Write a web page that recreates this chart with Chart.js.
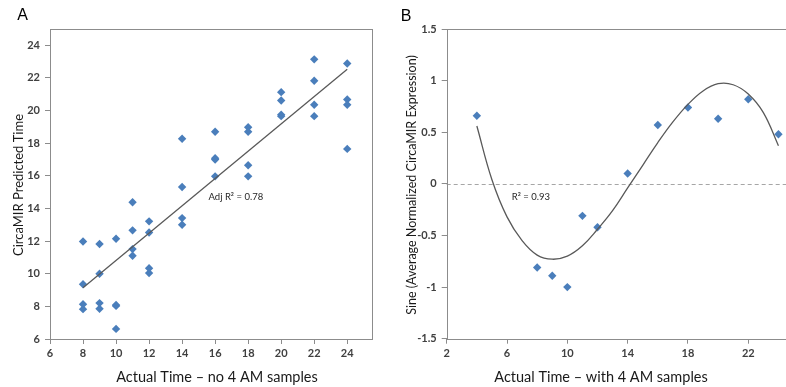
<!DOCTYPE html>
<html><head><meta charset="utf-8">
<script src="https://cdn.jsdelivr.net/npm/chart.js@4/dist/chart.umd.min.js"></script>
<style>
html,body{margin:0;padding:0;background:#fff;overflow:hidden;width:786px;height:387px;position:relative;}
#wa{position:absolute;left:0;top:0;width:400px;height:387px;}
#wb{position:absolute;left:400px;top:0;width:430px;height:387px;}
</style></head><body>
<div id="wa"><canvas id="ca" width="400" height="387"></canvas></div>
<div id="wb"><canvas id="cb" width="430" height="387"></canvas></div>
<script>
// ---------- Panel A data ----------
const aTimes = [8,8,8,8, 9,9,9,9, 10,10,10,10, 11,11,11,11, 12,12,12,12, 14,14,14,14, 16,16,16,16, 18,18,18,18, 20,20,20,20, 22,22,22,22, 24,24,24,24];
const aPredicted = [11.98,9.36,8.13,7.83, 11.82,10.0,8.2,7.85, 12.14,8.03,8.08,6.62, 14.38,12.66,11.51,11.1, 13.21,12.53,10.34,10.04, 18.27,15.32,13.41,13.0, 18.7,17.0,17.08,15.97, 18.98,18.7,16.65,15.97, 21.13,20.62,19.74,19.66, 23.14,21.83,20.36,19.66, 22.89,20.68,20.36,17.65];
const aFitX = [8, 24];
const aFitY = [9.14, 22.53];
const aXTicks = [6,8,10,12,14,16,18,20,22,24];
const aYTicks = [6,8,10,12,14,16,18,20,22,24];
const aLabel = "Adj R\u00B2 = 0.78";

// ---------- Panel B data ----------
const bTimes = [4,8,9,10,11,12,14,16,18,20,22,24];
const bSine = [0.66,-0.81,-0.89,-1.0,-0.31,-0.42,0.10,0.57,0.74,0.63,0.82,0.48];
const bFitX = [4,5,6,7,8,9,10,11,12,13,14,15,16,17,18,19,20,21,22,23,24];
const bFitY = [0.56,0.04,-0.32,-0.55,-0.69,-0.73,-0.70,-0.60,-0.44,-0.26,-0.04,0.18,0.40,0.60,0.77,0.90,0.97,0.96,0.87,0.69,0.37];
const bXTicks = [2,6,10,14,18,22];
const bYTicks = [-1.5,-1,-0.5,0,0.5,1,1.5];
const bLabel = "R\u00B2 = 0.93";

const FONT = "Lato, 'Open Sans', sans-serif";
Chart.defaults.font.family = FONT;
Chart.defaults.animation = false;
const AXIS = '#8c8c8c';
const TICKC = '#404040';
const BLUE = '#4A7EBB';
const LINEC = '#595959';

function pts(xs, ys){ return xs.map((x,i)=>({x:x, y:ys[i]})); }

function frame(ch){
  const a = ch.chartArea, c = ch.ctx;
  c.save(); c.strokeStyle = AXIS; c.lineWidth = 1;
  c.strokeRect(Math.round(a.left)+0.5, Math.round(a.top)+0.5, Math.round(a.right-a.left), Math.round(a.bottom-a.top));
  c.restore();
}
function txt(c, s, x, y, font, color, align, rot){
  c.save(); c.translate(x,y); if(rot) c.rotate(rot);
  c.font = font; c.fillStyle = color; c.textAlign = align||'center'; c.textBaseline = 'middle';
  c.fillText(s,0,0); c.restore();
}

function scaleOpts(min, max, ticks, fmt, pad){
  return {
    type:'linear', min:min, max:max,
    afterBuildTicks: s => { s.ticks = ticks.map(v=>({value:v})); },
    grid:{display:true, drawOnChartArea:false, drawTicks:true, tickLength:5, tickColor:AXIS, color:AXIS},
    border:{display:false},
    ticks:{color:TICKC, font:{size:11, weight:'bold'}, padding:pad, callback: fmt}
  };
}

// ---------- Chart A ----------
new Chart(document.getElementById('ca'), {
  data:{ datasets:[
    {type:'line', data:pts(aFitX,aFitY), borderColor:LINEC, borderWidth:1.3, pointRadius:0, order:0},
    {type:'scatter', data:pts(aTimes,aPredicted), pointStyle:'rectRot', pointRadius:4.2, backgroundColor:BLUE, borderColor:BLUE, borderWidth:0, order:1}
  ]},
  options:{
    responsive:false, events:[],
    layout:{padding:{left:0, top:29, right:28, bottom:0}},
    plugins:{legend:{display:false}, tooltip:{enabled:false}},
    scales:{
      x: Object.assign(scaleOpts(6,25.5,aXTicks,v=>v,3), {afterFit: s=>{s.height=48;}}),
      y: Object.assign(scaleOpts(6,25,aYTicks,v=>v,5), {afterFit: s=>{s.width=50;}})
    }
  },
  plugins:[{id:'decoA', afterDraw(ch){
    frame(ch);
    const c = ch.ctx, xs = ch.scales.x, ys = ch.scales.y;
    txt(c, 'A', 22.5, 15.5, "16px 'Liberation Sans', Arial, sans-serif", '#000', 'center');
    txt(c, 'Actual Time \u2013 no 4 AM samples', 217, 377, "14.5px "+FONT, '#1a1a1a', 'center');
    txt(c, 'CircaMIR Predicted Time', 19, 185, "13px "+FONT, '#1a1a1a', 'center', -Math.PI/2);
    txt(c, aLabel, xs.getPixelForValue(15.6), ys.getPixelForValue(14.72), "9.5px "+FONT, '#262626', 'left');
  }}]
});

// ---------- Chart B ----------
new Chart(document.getElementById('cb'), {
  data:{ datasets:[
    {type:'line', data:pts(bFitX,bFitY), borderColor:LINEC, borderWidth:1.3, pointRadius:0, tension:0.4, order:0},
    {type:'scatter', data:pts(bTimes,bSine), pointStyle:'rectRot', pointRadius:4.2, backgroundColor:BLUE, borderColor:BLUE, borderWidth:0, order:1}
  ]},
  options:{
    responsive:false, events:[],
    layout:{padding:{left:0, top:29, right:21.4, bottom:0}},
    plugins:{legend:{display:false}, tooltip:{enabled:false}},
    scales:{
      x: Object.assign(scaleOpts(2,26,bXTicks,v=>v,3), {afterFit: s=>{s.height=48.3;}}),
      y: Object.assign(scaleOpts(-1.5,1.5,bYTicks,v=>v,5), {afterFit: s=>{s.width=46.7;}})
    }
  },
  plugins:[{id:'decoB',
    beforeDatasetsDraw(ch){
      const c = ch.ctx, a = ch.chartArea, y0 = Math.round(ch.scales.y.getPixelForValue(0))+0.5;
      c.save(); c.strokeStyle='#a6a6a6'; c.lineWidth=1; c.setLineDash([4,3]);
      c.beginPath(); c.moveTo(a.left,y0); c.lineTo(a.right,y0); c.stroke(); c.restore();
    },
    afterDraw(ch){
      frame(ch);
      const c = ch.ctx, xs = ch.scales.x, ys = ch.scales.y;
      txt(c, 'B', 6, 16.5, "16px 'Liberation Sans', Arial, sans-serif", '#000', 'center');
      txt(c, 'Actual Time \u2013 with 4 AM samples', 201, 377, "14.5px "+FONT, '#1a1a1a', 'center');
      txt(c, 'Sine (Average Normalized CircaMIR Expression)', 12, 185, "12.5px "+FONT, '#1a1a1a', 'center', -Math.PI/2);
      txt(c, bLabel, xs.getPixelForValue(6.31), ys.getPixelForValue(-0.13), "9.5px "+FONT, '#262626', 'left');
    }
  }]
});
</script>
</body></html>
